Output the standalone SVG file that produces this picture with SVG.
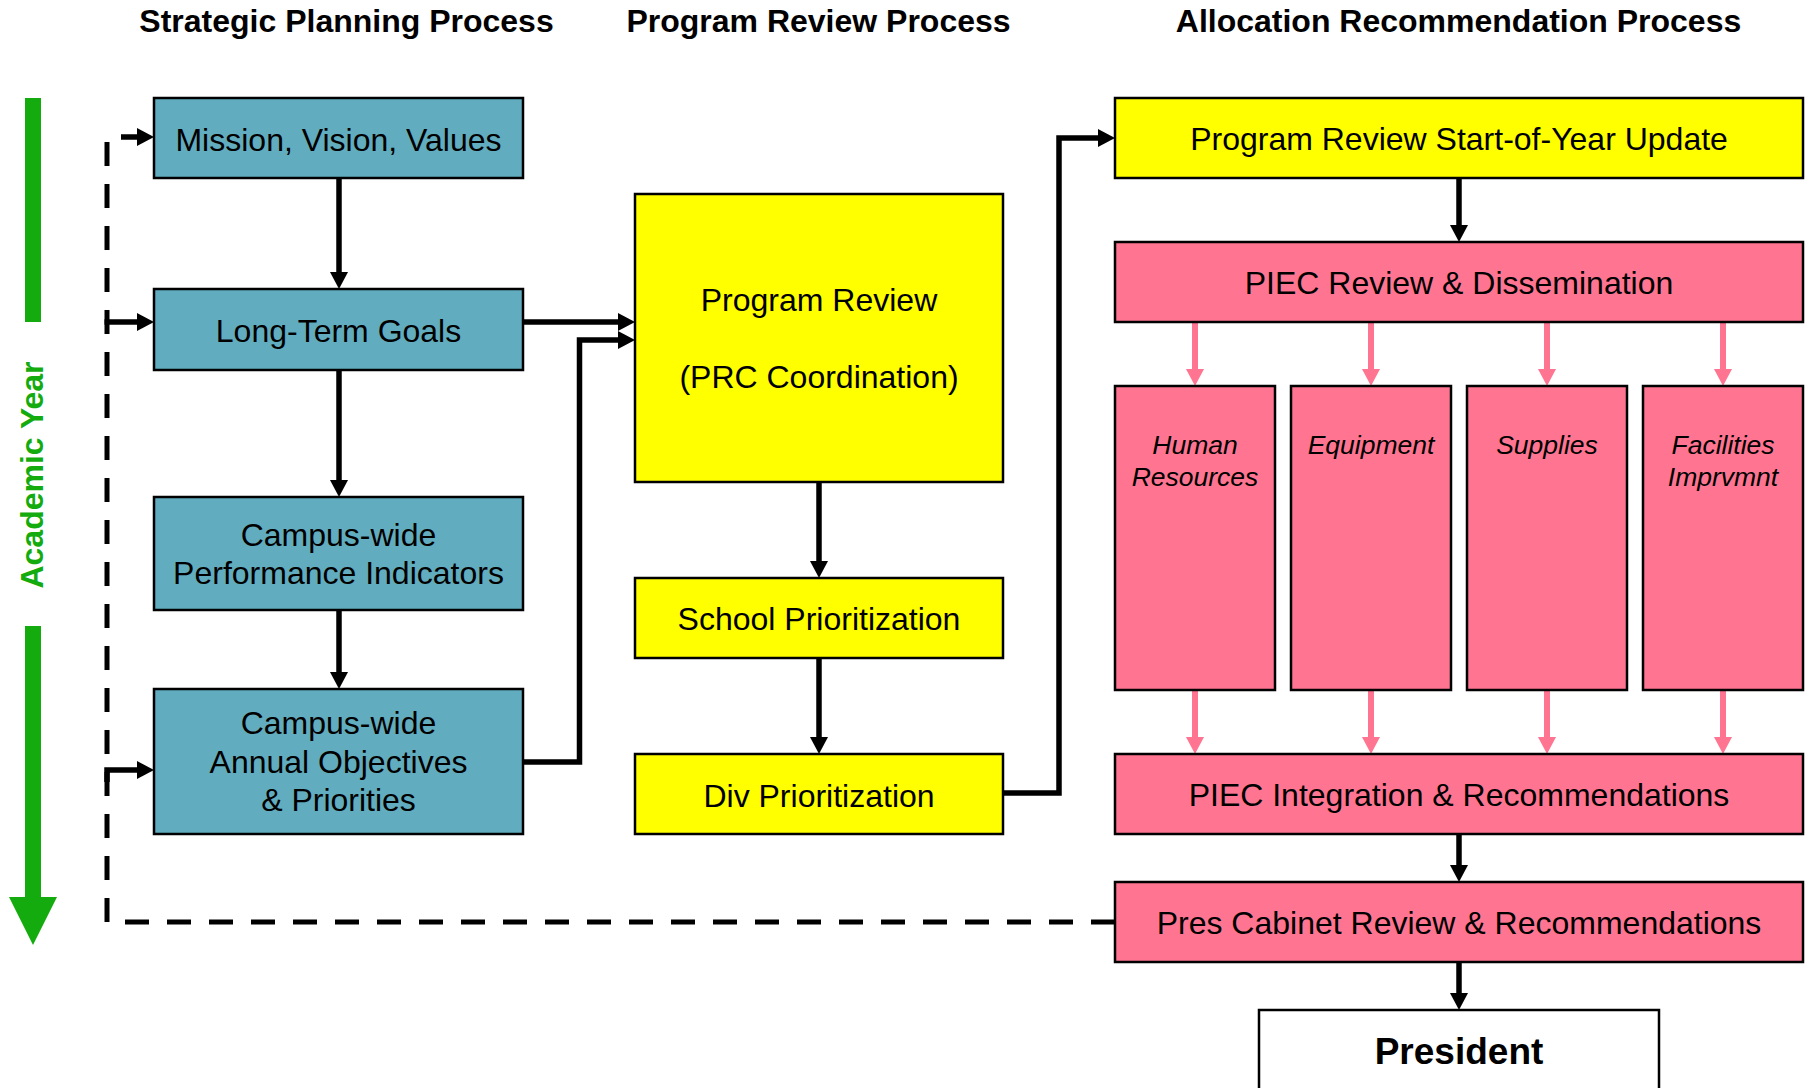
<svg xmlns="http://www.w3.org/2000/svg" width="1810" height="1088" viewBox="0 0 1810 1088">
<defs>
<style>
.box{stroke:#000;stroke-width:2.5}
.blue{fill:#61ADBF}
.yel{fill:#FFFF00}
.pink{fill:#FF7591}
.wht{fill:#FFFFFF}
text{font-family:"Liberation Sans",Arial,sans-serif;fill:#000;text-anchor:middle}
.t{font-size:32px}
.ti{font-size:26.5px;font-style:italic}
.h{font-size:32px;font-weight:bold}
.c{fill:none;stroke:#000;stroke-width:5.5;stroke-linejoin:miter}
.cp{fill:none;stroke:#FF7591;stroke-width:6}
.dash{fill:none;stroke:#000;stroke-width:5;stroke-dasharray:24 18}
</style>
<marker id="ab" markerUnits="userSpaceOnUse" markerWidth="18" markerHeight="18" viewBox="0 0 17 18" refX="5" refY="9" orient="auto"><path d="M0,0 L17,9 L0,18 z" fill="#000"/></marker>
<marker id="ap" markerUnits="userSpaceOnUse" markerWidth="18" markerHeight="18" viewBox="0 0 17 18" refX="5" refY="9" orient="auto"><path d="M0,0 L17,9 L0,18 z" fill="#FF7591"/></marker>
</defs>
<rect width="1810" height="1088" fill="#fff"/>

<g id="titles">
<text class="h" x="346.5" y="32">Strategic Planning Process</text>
<text class="h" x="818.5" y="32">Program Review Process</text>
<text class="h" x="1458.5" y="32">Allocation Recommendation Process</text>
</g>

<g id="academic-year">
<rect x="25" y="98" width="16" height="224" fill="#14AB0E"/>
<rect x="25" y="626" width="16" height="273" fill="#14AB0E"/>
<polygon points="9,897 57,897 33,945" fill="#14AB0E"/>
<text class="h" x="42.5" y="475" transform="rotate(-90 42.5 475)" style="fill:#14AB0E">Academic Year</text>
</g>

<g id="connectors">
<path class="dash" d="M1115,922 H107 V142"/>
<path class="c" d="M121,137 H142" marker-end="url(#ab)"/>
<path class="c" d="M104.5,322 H142" marker-end="url(#ab)"/>
<path class="c" d="M107,782 V770 H142" marker-end="url(#ab)"/>
<path class="c" d="M339,178 V277" marker-end="url(#ab)"/>
<path class="c" d="M339,370 V485" marker-end="url(#ab)"/>
<path class="c" d="M339,610 V677" marker-end="url(#ab)"/>
<path class="c" d="M523,322 H623" marker-end="url(#ab)"/>
<path class="c" d="M523,762 H579.5 V340 H623" marker-end="url(#ab)"/>
<path class="c" d="M819,482 V566" marker-end="url(#ab)"/>
<path class="c" d="M819,658 V742" marker-end="url(#ab)"/>
<path class="c" d="M1003,793 H1059 V138 H1103" marker-end="url(#ab)"/>
<path class="c" d="M1459,178 V230" marker-end="url(#ab)"/>
<path class="c" d="M1459,834 V870" marker-end="url(#ab)"/>
<path class="c" d="M1459,962 V998" marker-end="url(#ab)"/>
<path class="cp" d="M1195,322 V374" marker-end="url(#ap)"/>
<path class="cp" d="M1371,322 V374" marker-end="url(#ap)"/>
<path class="cp" d="M1547,322 V374" marker-end="url(#ap)"/>
<path class="cp" d="M1723,322 V374" marker-end="url(#ap)"/>
<path class="cp" d="M1195,690 V742" marker-end="url(#ap)"/>
<path class="cp" d="M1371,690 V742" marker-end="url(#ap)"/>
<path class="cp" d="M1547,690 V742" marker-end="url(#ap)"/>
<path class="cp" d="M1723,690 V742" marker-end="url(#ap)"/>
</g>

<g id="mission">
<rect class="box blue" x="154" y="98" width="369" height="80"/>
<text class="t" x="338.5" y="150.5">Mission, Vision, Values</text>
</g>
<g id="long-term-goals">
<rect class="box blue" x="154" y="289" width="369" height="81"/>
<text class="t" x="338.5" y="341.5">Long-Term Goals</text>
</g>
<g id="performance-indicators">
<rect class="box blue" x="154" y="497" width="369" height="113"/>
<text class="t" x="338.5" y="546">Campus-wide</text>
<text class="t" x="338.5" y="584">Performance Indicators</text>
</g>
<g id="annual-objectives">
<rect class="box blue" x="154" y="689" width="369" height="145"/>
<text class="t" x="338.5" y="733.5">Campus-wide</text>
<text class="t" x="338.5" y="772.5">Annual Objectives</text>
<text class="t" x="338.5" y="810.5">&amp; Priorities</text>
</g>

<g id="program-review">
<rect class="box yel" x="635" y="194" width="368" height="288"/>
<text class="t" x="819" y="311">Program Review</text>
<text class="t" x="819" y="388">(PRC Coordination)</text>
</g>
<g id="school-prioritization">
<rect class="box yel" x="635" y="578" width="368" height="80"/>
<text class="t" x="819" y="630">School Prioritization</text>
</g>
<g id="div-prioritization">
<rect class="box yel" x="635" y="754" width="368" height="80"/>
<text class="t" x="819" y="806.5">Div Prioritization</text>
</g>

<g id="start-of-year-update">
<rect class="box yel" x="1115" y="98" width="688" height="80"/>
<text class="t" x="1459" y="149.5">Program Review Start-of-Year Update</text>
</g>
<g id="piec-review">
<rect class="box pink" x="1115" y="242" width="688" height="80"/>
<text class="t" x="1459" y="294">PIEC Review &amp; Dissemination</text>
</g>
<g id="human-resources">
<rect class="box pink" x="1115" y="386" width="160" height="304"/>
<text class="ti" x="1195" y="454">Human</text>
<text class="ti" x="1195" y="486">Resources</text>
</g>
<g id="equipment">
<rect class="box pink" x="1291" y="386" width="160" height="304"/>
<text class="ti" x="1371" y="454">Equipment</text>
</g>
<g id="supplies">
<rect class="box pink" x="1467" y="386" width="160" height="304"/>
<text class="ti" x="1547" y="454">Supplies</text>
</g>
<g id="facilities">
<rect class="box pink" x="1643" y="386" width="160" height="304"/>
<text class="ti" x="1723" y="454">Facilities</text>
<text class="ti" x="1723" y="486">Imprvmnt</text>
</g>
<g id="piec-integration">
<rect class="box pink" x="1115" y="754" width="688" height="80"/>
<text class="t" x="1459" y="806">PIEC Integration &amp; Recommendations</text>
</g>
<g id="pres-cabinet">
<rect class="box pink" x="1115" y="882" width="688" height="80"/>
<text class="t" x="1459" y="934">Pres Cabinet Review &amp; Recommendations</text>
</g>
<g id="president">
<rect class="box wht" x="1259" y="1010" width="400" height="100"/>
<text x="1459" y="1063.5" style="font-size:37px;font-weight:bold">President</text>
</g>
</svg>
